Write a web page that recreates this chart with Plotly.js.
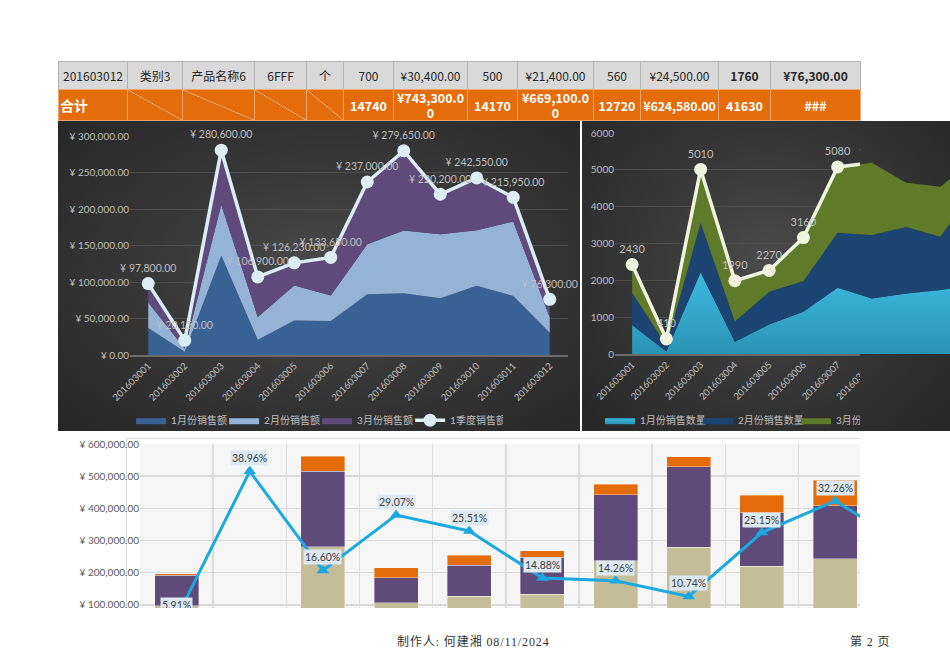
<!DOCTYPE html>
<html>
<head>
<meta charset="utf-8">
<script src="https://cdn.plot.ly/plotly-3.0.1.min.js"></script>
<style>
body{margin:0;width:950px;height:672px;overflow:hidden;background:#fff;position:relative;font-family:"Noto Sans CJK SC",sans-serif}
.abs{position:absolute}
.cell{position:absolute;box-sizing:border-box;display:flex;align-items:center;justify-content:center;text-align:center;word-break:break-all;line-height:15px}
</style>
</head>
<body>
<div id="table"></div>
<div class="abs" style="left:58px;top:121px;width:522px;height:310px;background:radial-gradient(ellipse at 52% 48%, #4a4a4a 0%, #383838 45%, #262626 100%)"></div>
<div id="c1" class="abs" style="left:58px;top:121px;width:522px;height:310px"></div>
<div class="abs" style="left:582px;top:121px;width:368px;height:310px;background:radial-gradient(ellipse at 50% 45%, #4a4a4a 0%, #383838 45%, #262626 100%)"></div>
<div id="c2a" class="abs" style="left:582px;top:121px;width:600px;height:310px;clip-path:inset(0 322px 0 0)"></div>
<div id="c2b" class="abs" style="left:582px;top:121px;width:600px;height:310px;clip-path:inset(0 0 0 278px)"></div>
<div id="w3" class="abs" style="left:58px;top:432px;width:802px;height:176px;overflow:hidden;background:#fff">
  <div class="abs" style="left:68px;top:6px;width:734px;height:1px;background:#d9d9d9"></div>
  <div class="abs" style="left:68px;top:6px;width:1px;height:170px;background:#d9d9d9"></div>
  <div id="c3" class="abs" style="left:0;top:0;width:970px;height:232px"></div>
</div>
<div class="abs" style="left:397px;top:632px;font-size:12px;letter-spacing:0.9px;color:#333;font-family:'Liberation Serif','Noto Sans CJK SC',serif;white-space:nowrap">制作人: 何建湘 08/11/2024</div>
<div class="abs" style="left:850px;top:632px;font-size:12px;letter-spacing:0.9px;color:#333;font-family:'Liberation Serif','Noto Sans CJK SC',serif;white-space:nowrap">第 2 页</div>

<script>
// ---------- data ----------
const products = ['201603001','201603002','201603003','201603004','201603005','201603006','201603007','201603008','201603009','201603010','201603011','201603012'];

// chart 1: sales amount
const salesJan = [37000, 4600, 136300, 21000, 47100, 46600, 83200, 84600, 77700, 94700, 80900, 30400];
const salesFeb = [34800, 4400, 69500, 31100, 48000, 34800, 68600, 86000, 87800, 76300, 102000, 21400];
const salesMar = [26000, 11150, 74800, 54800, 31130, 52250, 85200, 109050, 54700, 71550, 33050, 24500];
const salesQ1  = [97800, 20150, 280600, 106900, 126230, 133650, 237000, 279650, 220200, 242550, 215950, 76300];

// chart 2: sales quantity
const qtyJan = [790, 70, 2210, 330, 800, 1150, 1800, 1510, 1640, 1735, 1900, 700];
const qtyFeb = [870, 160, 1350, 550, 890, 830, 1490, 1720, 1810, 1445, 2600, 500];
const qtyMar = [770, 180, 1450, 1110, 580, 1180, 1790, 1960, 1200, 1360, 780, 560];
const qtyQ1  = [2430, 410, 5010, 1990, 2270, 3160, 5080, 5190, 4650, 4540, 5280, 1760];

// chart 3: stacked bars + ratio line
const barBase = [97800, 20150, 280600, 106900, 126230, 133650, 237000, 279650, 220200, 242550, 215950, 76300];
const barMid  = [93500, 30000, 234600, 77000, 96200, 114500, 204600, 250200, 165500, 166200, 150000, 50000];
const barTop  = [5800, 7850, 46600, 31100, 32200, 19900, 33800, 30000, 55400, 78200, 47900, 22900];
const ratio   = [0.0591, 0.3896, 0.1660, 0.2907, 0.2551, 0.1488, 0.1426, 0.1074, 0.2515, 0.3226, 0.222, 0.30];

// table
const tableRow1 = ['201603012','类别3','产品名称6','6FFF','个','700','¥30,400.00','500','¥21,400.00','560','¥24,500.00','1760','¥76,300.00'];
const tableRow2 = ['合计','','','','','14740','¥743,300.00','14170','¥669,100.00','12720','¥624,580.00','41630','###'];

// ---------- table ----------
const colEdges = [58,127,182,254,306,343,393,467,517,593,640,718,770,860];
const tbl = document.getElementById('table');
function addCell(x0,x1,y0,y1,txt,style){
  const d=document.createElement('div');
  d.className='cell';
  d.style.left=x0+'px'; d.style.top=y0+'px';
  d.style.width=(x1-x0+1)+'px'; d.style.height=(y1-y0+1)+'px';
  Object.assign(d.style,style);
  d.textContent=txt;
  tbl.appendChild(d);
}
tableRow1.forEach((t,i)=>{
  addCell(colEdges[i],colEdges[i+1],61,89,t,{
    background:'#d9d9d9',border:'1px solid #b3b3b3',color:'#262626',fontSize:'12px',
    fontWeight:(i>=11?'bold':'normal')});
});
tableRow2.forEach((t,i)=>{
  const st={background:'#e46c0a',border:'1px solid #f0a56e',color:'#fff',fontSize:'12.5px',fontWeight:'bold',padding:'0 2px'};
  if(i===0){st.justifyContent='flex-start';st.padding='0 0 0 1px';st.fontSize='14px';}
  if(i>=1&&i<=4){st.background='linear-gradient(to top right, transparent calc(50% - 0.6px), #f6c39d 50%, transparent calc(50% + 0.6px)), #e46c0a';}
  if(i===10){st.whiteSpace='nowrap';st.padding='0';st.letterSpacing='-0.2px';}
  addCell(colEdges[i],colEdges[i+1],89,120,t,st);
});

// ---------- chart 1 ----------
const F = 'Lato, "Noto Sans CJK SC", sans-serif';
function area(x,y,name,color,extra){
  return Object.assign({x:x,y:y,name:name,type:'scatter',mode:'lines',stackgroup:'one',
    line:{width:0,color:color},fillcolor:color,hoverinfo:'skip'},extra||{});
}
const c1data = [
  area(products,salesJan,'1月份销售额','#386294'),
  area(products,salesFeb,'2月份销售额','#95b3d7'),
  area(products,salesMar,'3月份销售额','#604a7b'),
  {x:products,y:salesQ1,name:'1季度销售额',type:'scatter',mode:'lines+markers+text',
   line:{color:'#dcedf5',width:3.5},marker:{size:13,color:'#dcedf5'},
   texttemplate:'¥ %{y:,.2f}',textposition:'top center',
   textfont:{color:'#bfbfbf',size:10.5,family:F},cliponaxis:false}
];
const c1layout = {
  width:522,height:310,margin:{l:72,r:12,t:15,b:76},
  paper_bgcolor:'rgba(0,0,0,0)',plot_bgcolor:'rgba(0,0,0,0)',
  font:{family:F,color:'#bfbfbf'},
  xaxis:{type:'category',range:[-0.5,11.5],tickangle:-45,tickfont:{size:9.5,color:'#bfbfbf'},
    showgrid:false,showline:true,linecolor:'#6b6b6b',linewidth:1.5,ticks:''},
  yaxis:{range:[0,300000],dtick:50000,tickprefix:'¥ ',tickformat:',.2f',
    gridcolor:'#4e4e4e',gridwidth:1,zeroline:false,tickfont:{size:10,color:'#bfbfbf'}},
  legend:{orientation:'h',traceorder:'normal',xref:'container',yref:'container',x:0.14,y:0.035,
    xanchor:'left',yanchor:'middle',entrywidth:48,itemwidth:30,font:{size:10,color:'#bfbfbf',family:F}},
  showlegend:true
};
Plotly.newPlot('c1',c1data,c1layout,{displayModeBar:false,staticPlot:true});

// ---------- chart 2 ----------
const c2areas = [
  area(products,qtyJan,'1月份销售数量','#35b1d6',{fillgradient:{type:'vertical',colorscale:[[0,'#2a93b4'],[1,'#3cbadf']]}}),
  area(products,qtyFeb,'2月份销售数量','#1c4472'),
  area(products,qtyMar,'3月份销售数量','#5f7a28')
];
const c2line = {x:products,y:qtyQ1,name:'1季度销售数量',type:'scatter',mode:'lines+markers+text',
   line:{color:'#eff4e0',width:3.5},marker:{size:13,color:'#eff4e0'},
   texttemplate:'%{y}',textposition:'top center',
   textfont:{color:'#bfbfbf',size:11,family:F},cliponaxis:false};
const c2layout = {
  width:600,height:310,margin:{l:33,r:156,t:12,b:77},
  paper_bgcolor:'rgba(0,0,0,0)',plot_bgcolor:'rgba(0,0,0,0)',
  font:{family:F,color:'#bfbfbf'},
  xaxis:{type:'category',range:[-0.5,11.5],tickangle:-45,tickfont:{size:9.5,color:'#bfbfbf'},
    showgrid:false,showline:true,linecolor:'#6b6b6b',linewidth:1.5,ticks:''},
  yaxis:{range:[0,6000],dtick:1000,gridcolor:'#4e4e4e',zeroline:false,
    tickfont:{size:10,color:'#bfbfbf'}},
  legend:{orientation:'h',traceorder:'normal',xref:'container',yref:'container',x:0.03,y:0.035,
    xanchor:'left',yanchor:'middle',entrywidth:53,itemwidth:30,font:{size:10,color:'#bfbfbf',family:F}},
  showlegend:true
};
Plotly.newPlot('c2a',c2areas.concat([c2line]),c2layout,{displayModeBar:false,staticPlot:true});
const c2bLayout = JSON.parse(JSON.stringify(c2layout));
c2bLayout.showlegend=false;
c2bLayout.xaxis.showline=false; c2bLayout.xaxis.showticklabels=false;
c2bLayout.yaxis.showgrid=false; c2bLayout.yaxis.showticklabels=false;
Plotly.newPlot('c2b',c2areas.map(t=>Object.assign({},t)),c2bLayout,{displayModeBar:false,staticPlot:true});

// ---------- chart 3 ----------
const c3data = [
  {x:products,y:barBase,type:'bar',name:'1季度销售额',marker:{color:'#c4bd97',line:{color:'rgba(255,255,255,0.6)',width:0.6}}},
  {x:products,y:barMid,type:'bar',name:'中',marker:{color:'#5f4a7a',line:{color:'rgba(255,255,255,0.6)',width:0.6}}},
  {x:products,y:barTop,type:'bar',name:'上',marker:{color:'#e46c0a',line:{color:'rgba(255,255,255,0.6)',width:0.6}}},
  {x:products,y:ratio,yaxis:'y2',type:'scatter',mode:'lines+markers',name:'比率',
   line:{color:'#1aa9e1',width:3},marker:{symbol:'triangle-up',size:11,color:'#1aa9e1'},cliponaxis:false}
];
// annotation x uses the category serial number (category index) of the x axis
const c3ann = ratio.map((r,i)=>({x:i,y:r,xref:'x',yref:'y2',text:(r*100).toFixed(2)+'%',
  showarrow:false,yshift:13,bgcolor:'#dde9f1',borderpad:1,font:{size:10.5,color:'#404040',family:F}}));
const c3layout = {
  width:970,height:232,margin:{l:82,r:10,t:12,b:27},
  paper_bgcolor:'rgba(0,0,0,0)',plot_bgcolor:'#f6f6f6',
  font:{family:F,color:'#595959'},
  barmode:'stack',bargap:0.4,showlegend:false,
  xaxis:{type:'category',range:[-0.5,11.5],tickson:'boundaries',showgrid:true,gridcolor:'#dcdcdc',gridwidth:1.5,
    showticklabels:false,showline:false,ticks:''},
  yaxis:{range:[0,600000],dtick:100000,tickprefix:'¥ ',tickformat:',.2f',gridcolor:'#d9d9d9',gridwidth:1.5,
    zeroline:false,tickfont:{size:10,color:'#595959'}},
  yaxis2:{overlaying:'y',side:'right',range:[0.016,0.451],showgrid:false,showticklabels:false,
    showline:false,zeroline:false,ticks:''},
  annotations:c3ann
};
Plotly.newPlot('c3',c3data,c3layout,{displayModeBar:false,staticPlot:true});
</script>
</body>
</html>
